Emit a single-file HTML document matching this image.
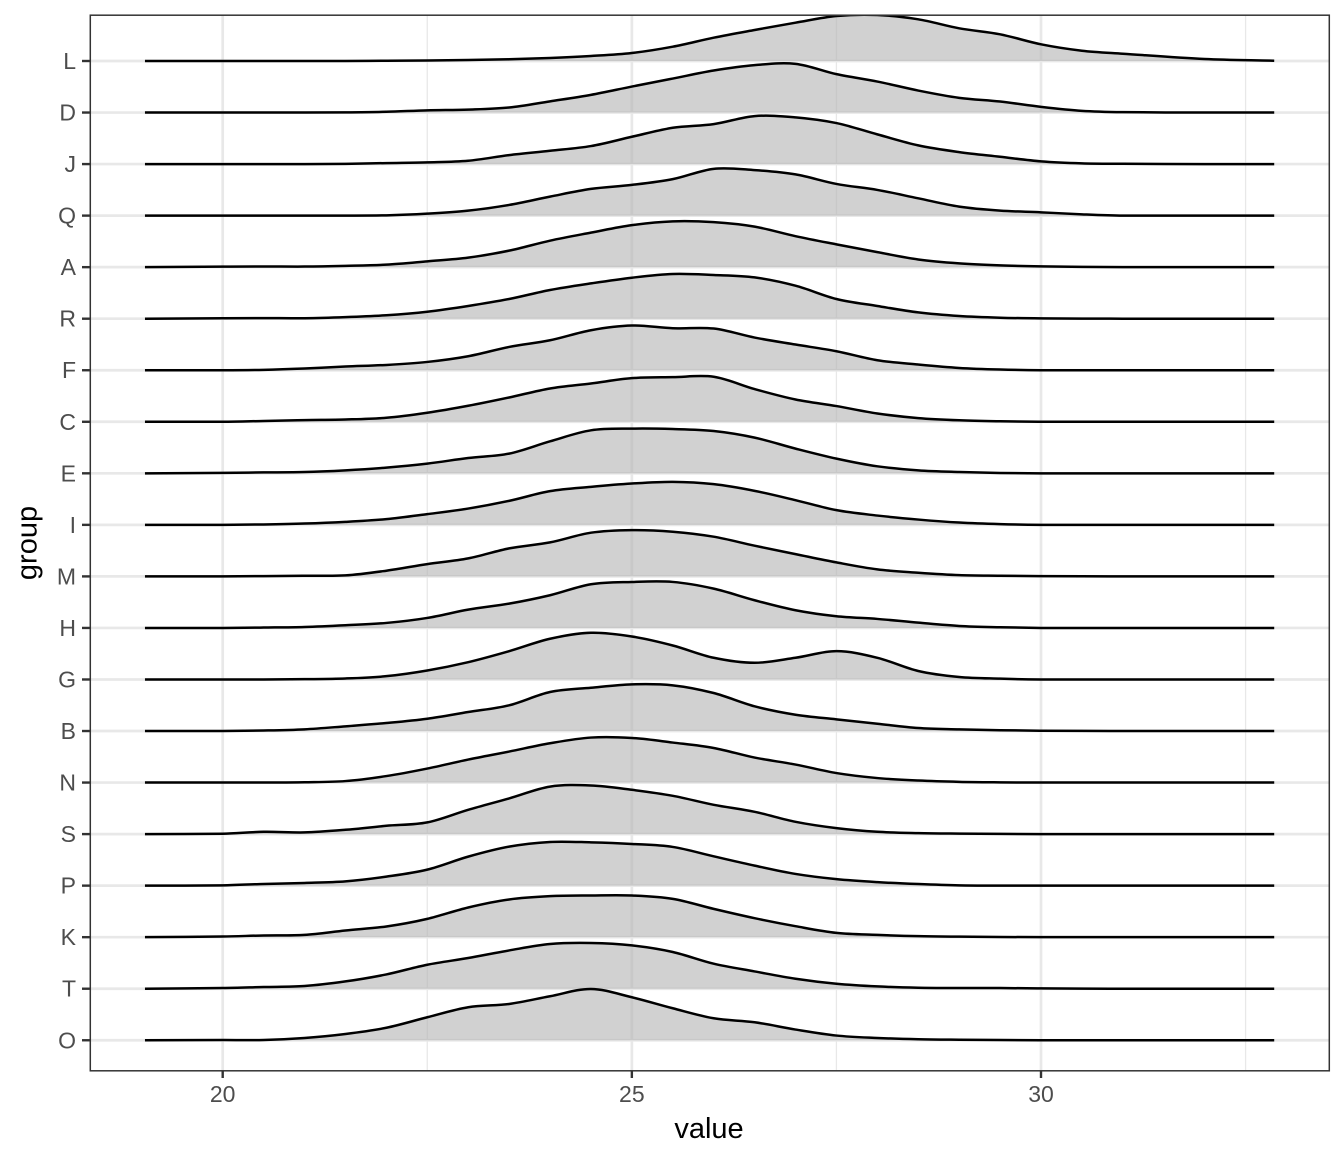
<!DOCTYPE html>
<html lang="en">
<head>
<meta charset="utf-8">
<title>Ridgeline chart of value by group</title>
<style>
html,body{margin:0;padding:0;background:#fff;}
svg{display:block;}
text{font-family:"Liberation Sans",Arial,sans-serif;}
</style>
</head>
<body>
<svg id="chart" xmlns="http://www.w3.org/2000/svg" width="1344" height="1152" viewBox="0 0 1344 1152">
  <rect x="0" y="0" width="1344" height="1152" fill="#ffffff"></rect>
  <defs>
    <clipPath id="panel-clip"><rect x="90" y="15" width="1239" height="1056"></rect></clipPath>
  </defs>
  <g id="grid"></g>
  <g id="ridges" clip-path="url(#panel-clip)"></g>
  <rect x="90.3" y="15.2" width="1239" height="1055.6" fill="none" stroke="#333333" stroke-width="1.5"></rect>
  <g id="axes"></g>
  <text x="709" y="1138" font-size="29" text-anchor="middle" fill="#000000">value</text>
  <text transform="translate(36.5,543) rotate(-90)" font-size="29" text-anchor="middle" fill="#000000">group</text>
</svg>
<script>
const groups = ["L","D","J","Q","A","R","F","C","E","I","M","H","G","B","N","S","P","K","T","O"];
const xTicks = [20, 25, 30];
const xMinorTicks = [22.5, 27.5, 32.5];
const xGrid = [19.05,20,20.5,21,21.5,22,22.5,23,23.5,24,24.5,25,25.5,26,26.5,27,27.5,28,28.5,29,29.5,30,30.5,31,32,32.85];

const densityL = [0,0,0,0,0,0.3,0.5,1,1.7,3,5,8,14.3,23.3,31,38.3,45,46,41.7,32.7,26.7,16.7,10.3,7.3,2,0.3];
const densityD = [0,0,0,0,0.2,0.8,2.2,2.9,5,11.2,17.7,26,34,42,47.4,48.7,38.4,31,22,14.7,11,5.7,1.7,0.4,0,0];
const densityJ = [0,0,0,0,0.2,1,1.7,3.3,9,13.3,18,27.3,36.3,40,48,46.7,41,29.7,18.7,12,7.3,2.7,0.7,0.3,0,0];
const densityQ = [0,0,0,0,0,0.3,2,5,10.7,19,26.7,30.7,36.5,46.8,45.5,41.2,31.7,25.7,17.3,9,5,3.3,1.3,0,0,0];
const densityA = [0,0.5,0.7,0.6,1.3,2.5,5.8,9.5,16.5,26.5,34.5,42,45.8,45,40.5,31,22.8,15,7.7,3.8,1.8,0.8,0.3,0,0,0];
const densityR = [0,0.5,0.6,0.5,1.6,3.5,7,12.7,19.7,28.7,35.3,41,44.7,43.7,41.3,33,19.7,12.7,6.3,2.7,1,0.3,0.1,0,0,0];
const densityF = [0,0,0.4,1.7,3.7,5.3,8.3,14,23.3,30,40,44.7,42,41.7,32.7,25.7,19,10,5.7,2.3,0.7,0,0,0,0,0];
const densityC = [0,0,0.8,1.7,2.3,4,9,16,24.3,33.3,38.3,43.6,44.6,45,32.7,22.3,15.7,8.3,3.7,1.5,0.5,0,0,0,0,0];
const densityE = [0,0.5,0.9,1.3,3,5.7,9.7,15.3,19.7,32,43,44.7,44.3,42.3,35.7,24.7,14.7,7,3,1.3,0.3,0,0,0,0,0];
const densityI = [0,0,0.4,1.3,3,5.7,10.7,16.3,24,33.7,38,41.3,43,40.7,34,24.7,14.7,9.3,5.3,2.3,0.7,0,0,0,0,0];
const densityM = [0,0,0.3,0.7,1,5.7,12.3,18,28,34,43.7,46.3,44.7,39.7,30.7,22.3,14,7,3.7,1.3,0.7,0.3,0.1,0,0,0];
const densityH = [0,0,0.4,1,2.7,5,10,18.3,24.3,32.7,43.7,46,46,39.3,27.7,17.7,11.7,9,5.3,2,0.7,0,0,0,0,0];
const densityG = [0,0,0,0.3,1,3.3,9,17.3,28.3,40.7,46.7,43,34,21.7,16.7,21.7,28.3,21.7,8.5,2.5,0.8,0,0,0,0,0];
const densityB = [0,0,0.5,1.7,4.7,8,12.3,19,25.7,39,43.3,46.7,45.7,38,24.7,16.3,11.7,7.3,3,1.7,0.8,0.3,0.1,0,0,0];
const densityN = [0,0,0,0.3,1.5,6.5,14,23,31,39.3,45,44.6,40,34.6,25,18,9.5,4.5,2,0.7,0.2,0,0,0,0,0];
const densityS = [0,0.3,2.3,1.7,4.3,8.3,11.7,24.3,35.7,47.5,48.6,44.3,38.3,29.3,22.3,12.3,6,2.3,1,0.5,0.2,0,0,0,0,0];
const densityP = [0,0.3,1.7,2.7,4.3,9,16,29,39,43.7,43.3,41.7,38.7,29.3,20,11.7,6.5,3.5,1.6,0.3,0,0,0,0,0,0];
const densityK = [0,0.7,1.7,2.3,6.7,10.7,18.3,29.7,37.7,41,41.7,41.7,38.3,28.3,19,11,4.3,2.3,1,0.5,0.2,0,0,0,0,0];
const densityT = [0,0.7,1.7,2.7,7.3,14.3,24,30.7,38.3,44.7,45.7,43.3,36.7,25,17.3,10,5,2.3,1,0.7,0.7,0.3,0.1,0,0,0];
const densityO = [0,0.2,0.3,2.3,6.3,12.5,23,33,36.3,44,51.3,43,32,22,18,10.7,4.7,2.3,1,0.5,0.2,0,0,0,0,0];

const seriesByGroup = {L:densityL,D:densityD,J:densityJ,Q:densityQ,A:densityA,R:densityR,F:densityF,C:densityC,E:densityE,I:densityI,M:densityM,H:densityH,G:densityG,B:densityB,N:densityN,S:densityS,P:densityP,K:densityK,T:densityT,O:densityO};

const SVGNS = "http://www.w3.org/2000/svg";
const PANEL = {left:90, right:1329, top:15, bottom:1071};
function xScale(v){ return 222.7 + (v - 20) * 81.83; }
function rowBaseline(i){ return 61 + i * 51.54; }
function yScale(i, d){ return rowBaseline(i) - d; }

function make(tag, attrs, parent){
  const el = document.createElementNS(SVGNS, tag);
  for (const k in attrs) el.setAttribute(k, attrs[k]);
  parent.appendChild(el);
  return el;
}

function curvePath(i, vals){
  const n = xGrid.length;
  const t = [];
  for (let k = 0; k < n; k++){
    const a = Math.max(k - 1, 0), b = Math.min(k + 1, n - 1);
    t.push((vals[b] - vals[a]) / (xGrid[b] - xGrid[a]));
  }
  let p = "M" + xScale(xGrid[0]).toFixed(2) + "," + yScale(i, vals[0]).toFixed(2);
  for (let k = 0; k < n - 1; k++){
    const dx = xGrid[k + 1] - xGrid[k];
    const v1 = Math.max(0, vals[k] + t[k] * dx / 3);
    const v2 = Math.max(0, vals[k + 1] - t[k + 1] * dx / 3);
    p += "C" + xScale(xGrid[k] + dx / 3).toFixed(2) + "," + yScale(i, v1).toFixed(2) +
         " " + xScale(xGrid[k + 1] - dx / 3).toFixed(2) + "," + yScale(i, v2).toFixed(2) +
         " " + xScale(xGrid[k + 1]).toFixed(2) + "," + yScale(i, vals[k + 1]).toFixed(2);
  }
  return p;
}

const gridG = document.getElementById("grid");
const ridgesG = document.getElementById("ridges");
const axesG = document.getElementById("axes");

xMinorTicks.forEach(function(v){
  const l = make("line", {x1:xScale(v), x2:xScale(v), y1:PANEL.top, y2:PANEL.bottom, stroke:"#E8E8E8", "stroke-width":1.3}, gridG);
  
  
});
xTicks.forEach(function(v){
  const l = make("line", {x1:xScale(v), x2:xScale(v), y1:PANEL.top, y2:PANEL.bottom, stroke:"#E8E8E8", "stroke-width":2.7}, gridG);
  
  
});
groups.forEach(function(g, i){
  const y = rowBaseline(i);
  const l = make("line", {x1:PANEL.left, x2:PANEL.right, y1:y, y2:y, stroke:"#E8E8E8", "stroke-width":2.7}, gridG);
  
  
});

groups.forEach(function(g, i){
  const vals = seriesByGroup[g];
  const d = curvePath(i, vals);
  const base = rowBaseline(i).toFixed(2);
  const area = make("path", {
    d: d + "L" + xScale(xGrid[xGrid.length - 1]).toFixed(2) + "," + base + "L" + xScale(xGrid[0]).toFixed(2) + "," + base + "Z",
    fill:"#B3B3B3", "fill-opacity":0.6, stroke:"none"
  }, ridgesG);
  
  
  const line = make("path", {d:d, fill:"none", stroke:"#000000", "stroke-width":2.5, "stroke-linejoin":"round"}, ridgesG);
  
  
});

xTicks.forEach(function(v){
  const x = xScale(v);
  const t = make("line", {x1:x, x2:x, y1:PANEL.bottom, y2:PANEL.bottom + 7, stroke:"#333333", "stroke-width":2.4}, axesG);
  
  
  const lab = make("text", {x:x, y:1102, "font-size":23, "text-anchor":"middle", fill:"#4D4D4D"}, axesG);
  
  
  lab.textContent = String(v);
});
groups.forEach(function(g, i){
  const y = rowBaseline(i);
  const t = make("line", {x1:PANEL.left - 8, x2:PANEL.left, y1:y, y2:y, stroke:"#333333", "stroke-width":2.4}, axesG);
  
  
  const lab = make("text", {x:76, y:y + 8, "font-size":23, "text-anchor":"end", fill:"#4D4D4D"}, axesG);
  
  
  lab.textContent = g;
});
</script>
</body>
</html>
